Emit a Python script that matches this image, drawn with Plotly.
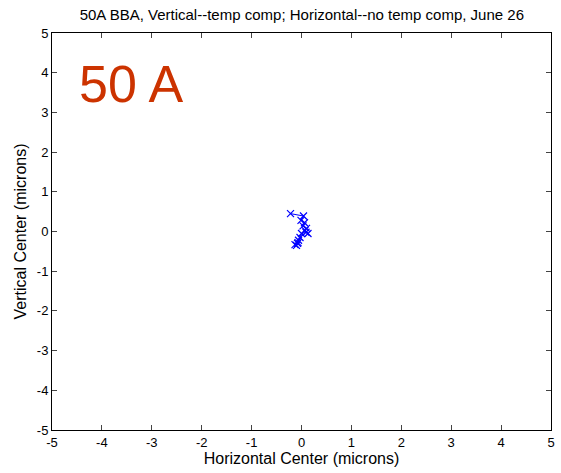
import plotly.graph_objects as go

# Beam center drift, 50 A BBA run (microns)
horiz_center = [-0.22, 0.04, -0.01, 0.06, 0.03, 0.10, 0.07, 0.13, 0.09, 0.00, -0.03, -0.06, -0.08, -0.13, -0.10, -0.07]
vert_center = [0.45, 0.39, 0.28, 0.22, 0.14, 0.08, 0.03, -0.05, -0.02, -0.05, -0.15, -0.22, -0.30, -0.33, -0.35, -0.28]

tick_vals = [-5, -4, -3, -2, -1, 0, 1, 2, 3, 4, 5]
tick_text = ["-5", "-4", "-3", "-2", "-1", "0", "1", "2", "3", "4", "5"]

fig = go.Figure()
fig.add_trace(go.Scatter(
    x=horiz_center, y=vert_center,
    mode="lines+markers",
    line=dict(color="#0000ff", width=1),
    marker=dict(symbol="x-thin", size=7, line=dict(color="#0000ff", width=1.2), color="#0000ff"),
    showlegend=False,
))

axis_common = dict(
    range=[-5, 5], tickvals=tick_vals, ticktext=tick_text, ticks="inside", ticklen=5,
    showline=True, linecolor="black", linewidth=1, mirror="ticks",
    showgrid=False, zeroline=False, tickfont=dict(size=13, color="black"),
)

fig.update_layout(
    width=561, height=473,
    margin=dict(l=52, r=6, t=33, b=43),
    paper_bgcolor="white", plot_bgcolor="white",
    font=dict(family="Liberation Sans, Arial, sans-serif", size=13, color="black"),
    title=dict(text="50A BBA, Vertical--temp comp; Horizontal--no temp comp, June 26",
               x=0.538, xanchor="center", y=0.968, yanchor="middle",
               font=dict(size=15, color="black")),
    xaxis=dict(title=dict(text="Horizontal Center (microns)", standoff=2), **axis_common),
    yaxis=dict(title=dict(text="Vertical Center (microns)", standoff=6), **axis_common),
)

fig.add_annotation(
    x=-4.5, y=4.5, xref="x", yref="y", xanchor="left", yanchor="top",
    text="50 A", showarrow=False,
    font=dict(family="Liberation Sans, Arial, sans-serif", size=52, color="#cc3300"),
)

fig.write_html("out.html")
